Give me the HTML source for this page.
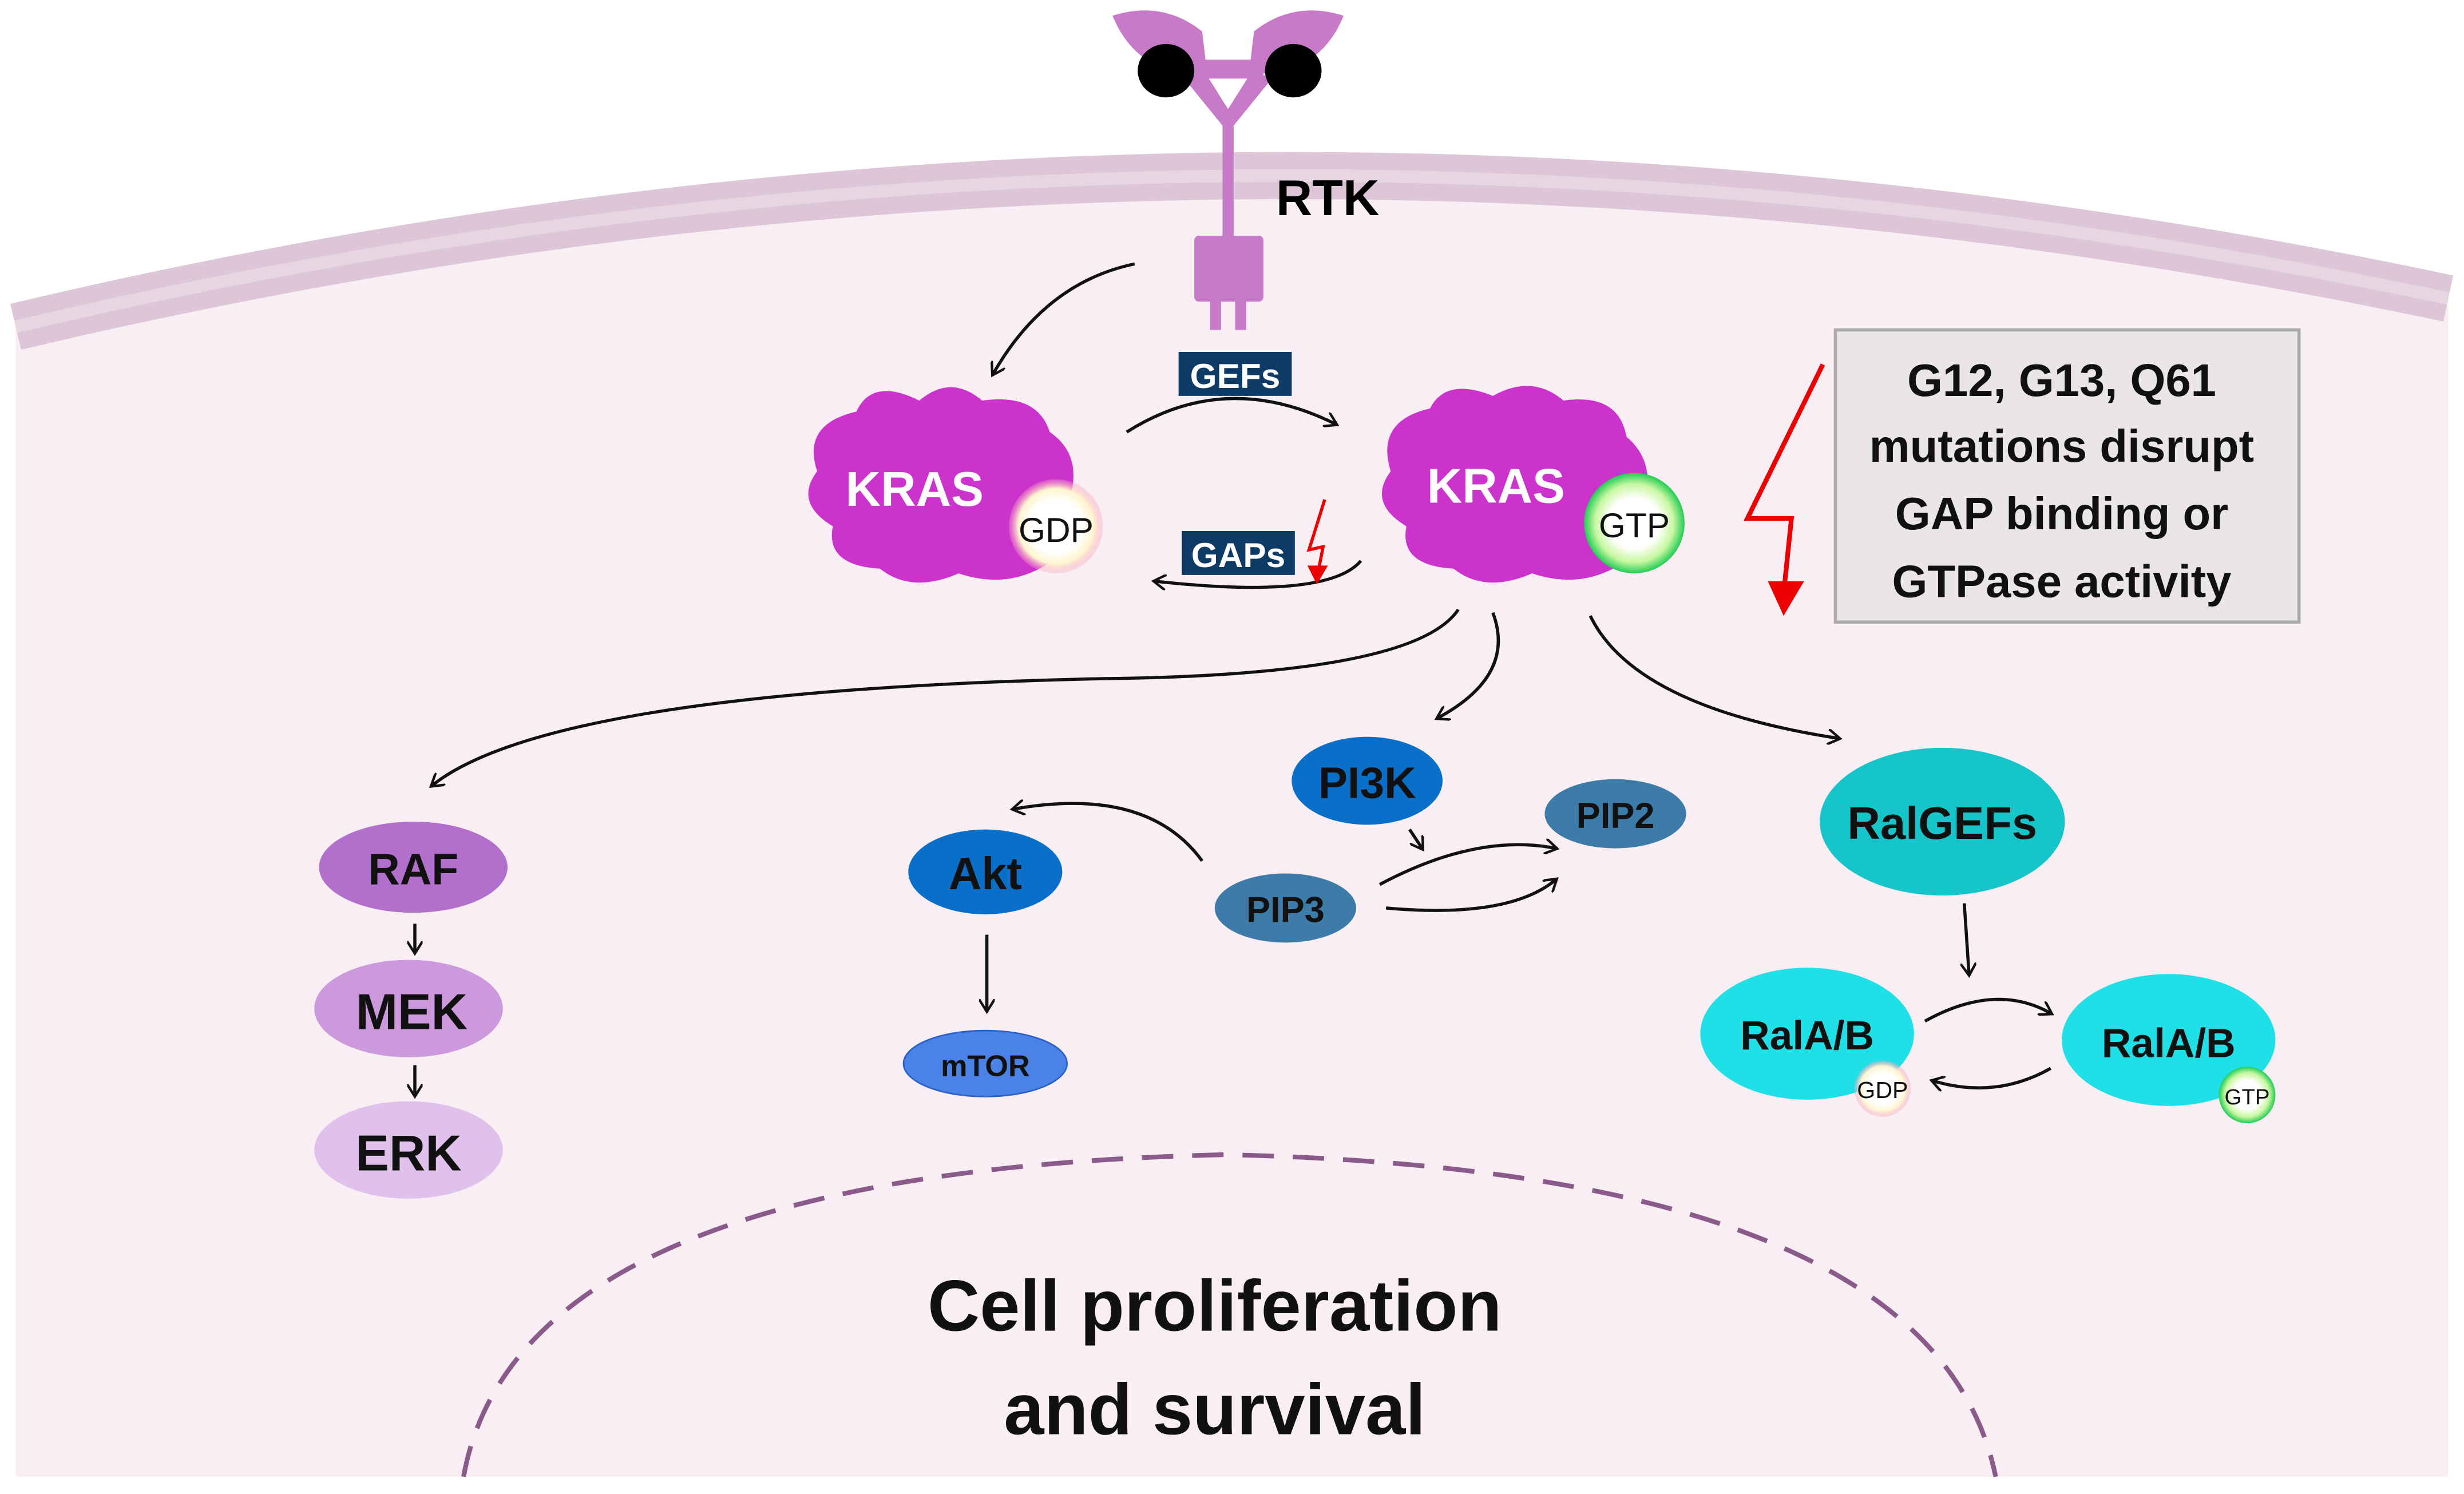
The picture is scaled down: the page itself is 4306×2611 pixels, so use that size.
<!DOCTYPE html>
<html><head><meta charset="utf-8"><style>
html,body{margin:0;padding:0;background:#fff;}
svg{display:block;}
text{font-family:"Liberation Sans",sans-serif;}
</style></head><body>
<svg width="4306" height="2611" viewBox="0 0 1568 951" preserveAspectRatio="none" xmlns="http://www.w3.org/2000/svg">
<defs>
<marker id="ah" markerWidth="10" markerHeight="10" refX="7" refY="5" orient="auto" markerUnits="userSpaceOnUse"><path d="M0,0 L8,5 L0,10" fill="none" stroke="#111" stroke-width="1.6"/></marker>
<radialGradient id="gdp"><stop offset="0.55" stop-color="#fff"/><stop offset="0.8" stop-color="#fff5d0"/><stop offset="1" stop-color="#f7a0c0" stop-opacity="0.3"/></radialGradient>
<radialGradient id="gtp"><stop offset="0.5" stop-color="#fff"/><stop offset="0.78" stop-color="#c8f7a0"/><stop offset="1" stop-color="#22cc55"/></radialGradient>
</defs>
<rect width="1568" height="951" fill="#fff"/>
<path d="M10,205 Q780,20 1558,185 L1558,940 L10,940 Z" fill="#f8eef3"/>
<path d="M10,208 Q780,25 1558,190" fill="none" stroke="#dcc6d8" stroke-width="30"/>
<path d="M10,208 Q780,25 1558,190" fill="none" stroke="#e6d6e2" stroke-width="8"/>
<path d="M295,940 Q330,745 780,735 Q1230,745 1270,940" fill="none" stroke="#8a5a8a" stroke-width="3" stroke-dasharray="20,12"/>
<g fill="#c77ac8">
<path d="M708,10 Q740,0 765,20 L768,45 L752,48 Q720,40 708,10 Z"/>
<path d="M855,10 Q823,0 798,20 L795,45 L811,48 Q843,40 855,10 Z"/>
<rect x="760" y="38" width="44" height="12"/>
<path d="M752,48 L768,48 L785,75 L785,150 L778,150 L778,80 Z"/>
<path d="M811,48 L795,48 L778,75 L778,150 L785,150 L785,80 Z"/>
<rect x="760" y="150" width="44" height="42" rx="3"/>
<rect x="770" y="190" width="7" height="20"/><rect x="786" y="190" width="7" height="20"/>
</g>
<ellipse cx="742" cy="45" rx="18" ry="17" fill="#000"/>
<ellipse cx="823" cy="45" rx="18" ry="17" fill="#000"/>
<text x="812" y="137" font-size="32" font-weight="bold" fill="#000">RTK</text>
<g fill="none" stroke="#111" stroke-width="2">
<path d="M722,168 Q665,180 632,238" marker-end="url(#ah)"/>
<path d="M717,275 Q780,235 850,270" marker-end="url(#ah)"/>
<path d="M866,357 Q845,382 735,370" marker-end="url(#ah)"/>
<path d="M928,388 Q900,430 700,432 Q350,440 275,500" marker-end="url(#ah)"/>
<path d="M950,390 Q965,430 915,457" marker-end="url(#ah)"/>
<path d="M1012,392 Q1040,450 1170,470" marker-end="url(#ah)"/>
<path d="M765,548 Q730,500 645,515" marker-end="url(#ah)"/>
<path d="M897,528 L905,540" marker-end="url(#ah)"/>
<path d="M878,563 Q940,530 990,540" marker-end="url(#ah)"/>
<path d="M882,578 Q960,585 990,560" marker-end="url(#ah)"/>
<path d="M264,588 L264,606" marker-end="url(#ah)"/>
<path d="M264,678 L264,697" marker-end="url(#ah)"/>
<path d="M628,595 L628,643" marker-end="url(#ah)"/>
<path d="M1250,575 L1253,620" marker-end="url(#ah)"/>
<path d="M1225,650 Q1270,625 1305,645" marker-end="url(#ah)"/>
<path d="M1305,680 Q1270,700 1230,688" marker-end="url(#ah)"/>
</g>
<rect x="750" y="224" width="72" height="28" fill="#0e3a66"/>
<text x="786" y="247" font-size="22" font-weight="bold" fill="#fff" text-anchor="middle">GEFs</text>
<rect x="752" y="338" width="72" height="28" fill="#0e3a66"/>
<text x="788" y="361" font-size="22" font-weight="bold" fill="#fff" text-anchor="middle">GAPs</text>
<path d="M843,318 L833,350 L842,348 L838,368" fill="none" stroke="#e00" stroke-width="2"/>
<path d="M832,360 L838,372 L845,360 Z" fill="#e00"/>
<path d="M1160,232 L1112,330 L1140,330 L1135,378" fill="none" stroke="#e00" stroke-width="3"/>
<path d="M1125,370 L1135,392 L1148,370 Z" fill="#e00"/>
<rect x="1168" y="210" width="295" height="186" fill="#ebe6e6" stroke="#aaa" stroke-width="2"/>
<g font-size="29" font-weight="bold" fill="#111" text-anchor="middle">
<text x="1312" y="252">G12, G13, Q61</text>
<text x="1312" y="294">mutations disrupt</text>
<text x="1312" y="337">GAP binding or</text>
<text x="1312" y="380">GTPase activity</text>
</g>
<g fill="#cc33cc">
<path d="M520,300 Q510,270 545,262 Q555,240 585,255 Q605,238 625,255 Q660,250 668,275 Q690,290 680,320 Q690,345 665,360 Q640,375 610,365 Q580,378 560,362 Q525,360 530,335 Q505,320 520,300 Z"/>
<path d="M885,300 Q875,268 910,260 Q920,240 950,252 Q975,238 995,255 Q1030,250 1035,278 Q1055,295 1045,322 Q1055,348 1030,360 Q1005,375 975,365 Q945,378 925,362 Q890,360 895,335 Q870,320 885,300 Z"/>
</g>
<circle cx="672" cy="335" r="30" fill="url(#gdp)"/>
<circle cx="1040" cy="333" r="32" fill="url(#gtp)"/>
<text x="582" y="322" font-size="31" font-weight="bold" fill="#fff" text-anchor="middle">KRAS</text>
<text x="952" y="320" font-size="31" font-weight="bold" fill="#fff" text-anchor="middle">KRAS</text>
<text x="672" y="345" font-size="22" fill="#111" text-anchor="middle">GDP</text>
<text x="1040" y="342" font-size="22" fill="#111" text-anchor="middle">GTP</text>
<g font-weight="bold" fill="#111" text-anchor="middle">
<ellipse cx="263" cy="552" rx="60" ry="29" fill="#b36fcc"/>
<text x="263" y="563" font-size="28">RAF</text>
<ellipse cx="260" cy="642" rx="60" ry="31" fill="#cc99dd"/>
<text x="262" y="655" font-size="32">MEK</text>
<ellipse cx="260" cy="732" rx="60" ry="31" fill="#e0c1ec"/>
<text x="260" y="745" font-size="32">ERK</text>
<ellipse cx="870" cy="497" rx="48" ry="28" fill="#0a6fc8"/>
<text x="870" y="508" font-size="28">PI3K</text>
<ellipse cx="1028" cy="518" rx="45" ry="22" fill="#3d7ba8"/>
<text x="1028" y="527" font-size="23">PIP2</text>
<ellipse cx="818" cy="578" rx="45" ry="22" fill="#3d7ba8"/>
<text x="818" y="587" font-size="23">PIP3</text>
<ellipse cx="627" cy="555" rx="49" ry="27" fill="#0a6fc8"/>
<text x="627" y="566" font-size="29">Akt</text>
<ellipse cx="627" cy="677" rx="52" ry="21" fill="#4a82e8" stroke="#2a62c8" stroke-width="1"/>
<text x="627" y="685" font-size="19">mTOR</text>
<ellipse cx="1236" cy="523" rx="78" ry="47" fill="#16c5c9"/>
<text x="1236" y="534" font-size="29">RalGEFs</text>
<ellipse cx="1150" cy="658" rx="68" ry="42" fill="#1fe0e6"/>
<text x="1150" y="668" font-size="26">RalA/B</text>
<ellipse cx="1380" cy="662" rx="68" ry="42" fill="#1fe0e6"/>
<text x="1380" y="673" font-size="26">RalA/B</text>
</g>
<circle cx="1198" cy="693" r="18" fill="url(#gdp)"/>
<text x="1198" y="699" font-size="15" text-anchor="middle" fill="#111">GDP</text>
<circle cx="1430" cy="697" r="18" fill="url(#gtp)"/>
<text x="1430" y="703" font-size="14" text-anchor="middle" fill="#111">GTP</text>
<text x="773" y="847" font-size="46" font-weight="bold" text-anchor="middle" fill="#111">Cell proliferation</text>
<text x="773" y="913" font-size="46" font-weight="bold" text-anchor="middle" fill="#111">and survival</text>
</svg>
</body></html>
